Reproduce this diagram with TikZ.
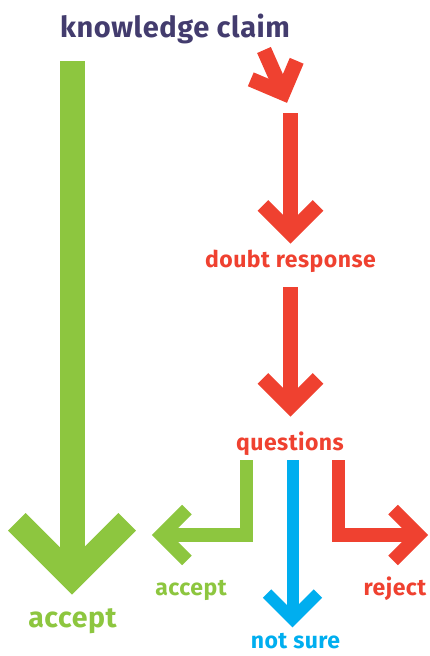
\documentclass[tikz,border=0pt]{standalone}
\usepackage{fontspec}
\setmainfont{Fira Sans}[LetterSpace=2]
\definecolor{claimpurple}{HTML}{433C6E}
\definecolor{acceptgreen}{HTML}{8DC63F}
\definecolor{doubtred}{HTML}{EF4130}
\definecolor{unsureblue}{HTML}{00AEEF}
\tikzset{
bigarrow/.style = {line width = 25pt, color = acceptgreen, line join = miter},
doubtarrow/.style = {line width = 15pt, color = doubtred, line join = miter},
branch/.style = {line width = 13.5pt, line join = miter},
word/.style = {font = \bfseries\fontsize{23}{23}\selectfont, anchor = base, inner sep = 0pt}}
% open arrow head: style, apex, direction, arm length
\newcommand{\chevron}[4]{\draw[#1] (#2) ++(#3+135:#4) -- (#2) -- +(#3-135:#4);}

\begin{document}
\begin{tikzpicture}[x=1pt, y=-1pt]
\useasboundingbox (0,0) rectangle (430,656);
%
%''''''''''''''''''''''''''''texts''''''''''''''''''''''''''''''''''''''''''''''''''''''''
\node[word, claimpurple, font = \bfseries\fontsize{29}{29}\selectfont] (claim) at (175,37) {knowledge claim};
\node[word, doubtred] (doubt) at (290.5,267) {doubt response};
\node[word, doubtred] (questions) at (290,450) {questions};
\node[word, acceptgreen, font = \bfseries\fontsize{28.5}{28.5}\selectfont] (bigaccept) at (72.5,627) {accept};
\node[word, acceptgreen] (accept) at (191,595) {accept};
\node[word, unsureblue] (notsure) at (295.5,648) {not sure};
\node[word, doubtred] (reject) at (395,595) {reject};
%''''''''''''''''''''''''''''''''''''''''''''''''''''''''''''''''''''''''''''''''''''''''
%
% points of the arrows
\coordinate (claimstart) at (72,61);
\coordinate (claimapex) at (72,577);
\coordinate (kinkstart) at (264,50);
\coordinate (kinkapex) at (283,93);
\coordinate (doubtstart) at (290.5,113);
\coordinate (doubtapex) at (290.5,233);
\coordinate (qstart) at (290.5,287);
\coordinate (qapex) at (290.5,406);
\coordinate (acceptstart) at (246.5,460);
\coordinate (acceptapex) at (161.5,535);
\coordinate (unsurestart) at (292.5,460);
\coordinate (unsureapex) at (292.5,619);
\coordinate (rejectstart) at (338.5,460);
\coordinate (rejectapex) at (418.5,535);
%
%----------------------------------------------------------------------------------
% accept at once
\draw[bigarrow] (claimstart) -- (claimapex);
\chevron{bigarrow}{claimapex}{90}{78}
%----------------------------------------------------------------------------------
%
%----------------------------------------------------------------------------------
% doubt
\draw[doubtarrow] (kinkstart) -- (kinkapex);
\chevron{doubtarrow}{kinkapex}{68}{35}
\draw[doubtarrow] (doubtstart) -- (doubtapex);
\chevron{doubtarrow}{doubtapex}{90}{39}
\draw[doubtarrow] (qstart) -- (qapex);
\chevron{doubtarrow}{qapex}{90}{39}
%----------------------------------------------------------------------------------
%
%----------------------------------------------------------------------------------
% three answers to the questions
\draw[branch, acceptgreen] (acceptstart) |- (acceptapex);
\chevron{branch, acceptgreen}{acceptapex}{180}{36}
\draw[branch, line width = 12pt, unsureblue] (unsurestart) -- (unsureapex);
\chevron{branch, line width = 12pt, unsureblue}{unsureapex}{90}{36}
\draw[branch, doubtred] (rejectstart) |- (rejectapex);
\chevron{branch, doubtred}{rejectapex}{0}{36}
%----------------------------------------------------------------------------------
%
\end{tikzpicture}
\end{document}
